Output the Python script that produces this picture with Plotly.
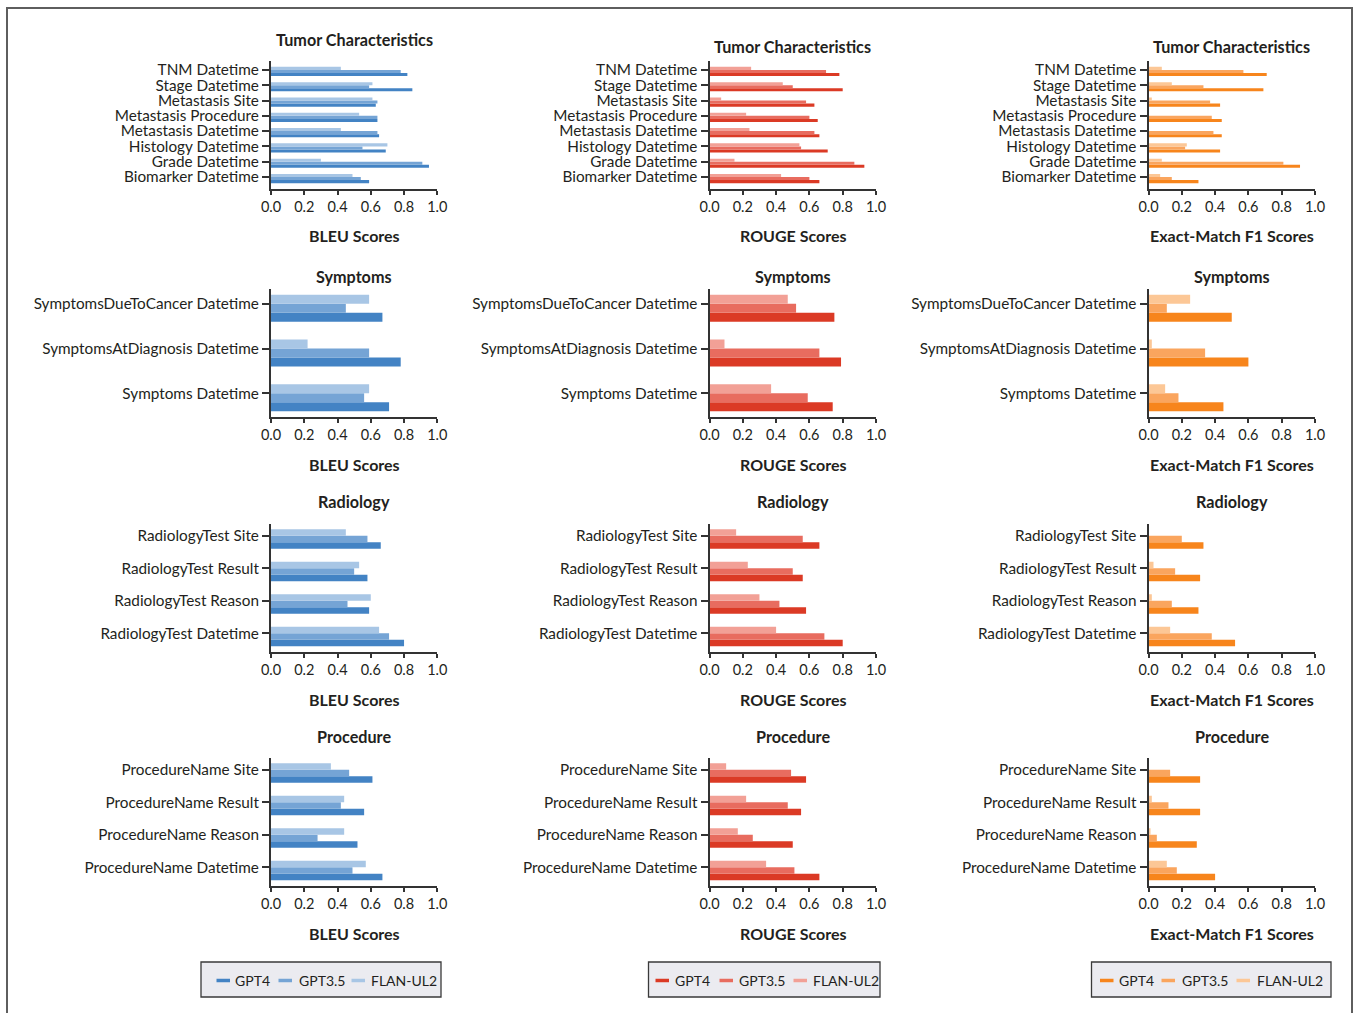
import plotly.graph_objects as go

W, H = 1354, 1013
FONT = "Lato"

models = ["GPT4", "GPT3.5", "FLAN-UL2"]
metric_titles = ["BLEU Scores", "ROUGE Scores", "Exact-Match F1 Scores"]

# Category labels, listed top to bottom as they appear in each panel
tumor_labels = ["TNM Datetime", "Stage Datetime", "Metastasis Site", "Metastasis Procedure",
                "Metastasis Datetime", "Histology Datetime", "Grade Datetime", "Biomarker Datetime"]
symptom_labels = ["SymptomsDueToCancer Datetime", "SymptomsAtDiagnosis Datetime", "Symptoms Datetime"]
radiology_labels = ["RadiologyTest Site", "RadiologyTest Result", "RadiologyTest Reason",
                    "RadiologyTest Datetime"]
procedure_labels = ["ProcedureName Site", "ProcedureName Result", "ProcedureName Reason",
                    "ProcedureName Datetime"]

# Scores per model, same order as the labels above
tumor_bleu = {
    "GPT4":     [0.82, 0.85, 0.63, 0.64, 0.65, 0.69, 0.95, 0.59],
    "GPT3.5":   [0.78, 0.59, 0.64, 0.64, 0.64, 0.55, 0.91, 0.54],
    "FLAN-UL2": [0.42, 0.61, 0.61, 0.53, 0.42, 0.70, 0.30, 0.49],
}
tumor_rouge = {
    "GPT4":     [0.78, 0.80, 0.63, 0.65, 0.66, 0.71, 0.93, 0.66],
    "GPT3.5":   [0.70, 0.50, 0.58, 0.60, 0.63, 0.55, 0.87, 0.60],
    "FLAN-UL2": [0.25, 0.44, 0.07, 0.22, 0.24, 0.54, 0.15, 0.43],
}
tumor_f1 = {
    "GPT4":     [0.71, 0.69, 0.43, 0.44, 0.44, 0.43, 0.91, 0.30],
    "GPT3.5":   [0.57, 0.33, 0.37, 0.38, 0.39, 0.22, 0.81, 0.14],
    "FLAN-UL2": [0.08, 0.14, 0.02, 0.00, 0.00, 0.23, 0.08, 0.07],
}

symptom_bleu = {
    "GPT4":     [0.67, 0.78, 0.71],
    "GPT3.5":   [0.45, 0.59, 0.56],
    "FLAN-UL2": [0.59, 0.22, 0.59],
}
symptom_rouge = {
    "GPT4":     [0.75, 0.79, 0.74],
    "GPT3.5":   [0.52, 0.66, 0.59],
    "FLAN-UL2": [0.47, 0.09, 0.37],
}
symptom_f1 = {
    "GPT4":     [0.50, 0.60, 0.45],
    "GPT3.5":   [0.11, 0.34, 0.18],
    "FLAN-UL2": [0.25, 0.02, 0.10],
}

radiology_bleu = {
    "GPT4":     [0.66, 0.58, 0.59, 0.80],
    "GPT3.5":   [0.58, 0.50, 0.46, 0.71],
    "FLAN-UL2": [0.45, 0.53, 0.60, 0.65],
}
radiology_rouge = {
    "GPT4":     [0.66, 0.56, 0.58, 0.80],
    "GPT3.5":   [0.56, 0.50, 0.42, 0.69],
    "FLAN-UL2": [0.16, 0.23, 0.30, 0.40],
}
radiology_f1 = {
    "GPT4":     [0.33, 0.31, 0.30, 0.52],
    "GPT3.5":   [0.20, 0.16, 0.14, 0.38],
    "FLAN-UL2": [0.00, 0.03, 0.02, 0.13],
}

procedure_bleu = {
    "GPT4":     [0.61, 0.56, 0.52, 0.67],
    "GPT3.5":   [0.47, 0.42, 0.28, 0.49],
    "FLAN-UL2": [0.36, 0.44, 0.44, 0.57],
}
procedure_rouge = {
    "GPT4":     [0.58, 0.55, 0.50, 0.66],
    "GPT3.5":   [0.49, 0.47, 0.26, 0.51],
    "FLAN-UL2": [0.10, 0.22, 0.17, 0.34],
}
procedure_f1 = {
    "GPT4":     [0.31, 0.31, 0.29, 0.40],
    "GPT3.5":   [0.13, 0.12, 0.05, 0.17],
    "FLAN-UL2": [0.00, 0.02, 0.01, 0.11],
}

sections = [
    ("Tumor Characteristics", tumor_labels, [tumor_bleu, tumor_rouge, tumor_f1]),
    ("Symptoms", symptom_labels, [symptom_bleu, symptom_rouge, symptom_f1]),
    ("Radiology", radiology_labels, [radiology_bleu, radiology_rouge, radiology_f1]),
    ("Procedure", procedure_labels, [procedure_bleu, procedure_rouge, procedure_f1]),
]

# One palette per metric column
palettes = [
    {"GPT4": "#4383C4", "GPT3.5": "#75A4D5", "FLAN-UL2": "#A8C6E5"},
    {"GPT4": "#DB3A25", "GPT3.5": "#E86C5F", "FLAN-UL2": "#F2A096"},
    {"GPT4": "#F7851C", "GPT3.5": "#FAA55E", "FLAN-UL2": "#FCC796"},
]

# Bars sit edge to edge: FLAN-UL2 just above the tick, GPT3.5 and GPT4 below it
BAR_W = 0.2
offsets = {"GPT4": -2 * BAR_W, "GPT3.5": -BAR_W, "FLAN-UL2": 0.0}

# Panel geometry in pixels
col_px = [(271, 437.3), (709.5, 876), (1148.5, 1315)]
row_px = [(61, 189), (289, 417), (523.5, 652), (757.5, 886)]
title_px = [[39.5, 47, 47], [276] * 3, [502] * 3, [736] * 3]
LABEL_SIZE = 15.3

AXIS_COLOR = "#333333"
TEXT_COLOR = "#231f20"


def px_x(v):
    return v / W


def px_y(v):
    return 1 - v / H


fig = go.Figure()
annotations = []
shapes = []

n = 0
for r, (sec_title, labels, tables) in enumerate(sections):
    k = len(labels)
    lo, hi = -2 * BAR_W, (k - 1) + BAR_W
    pad = 0.05 * (hi - lo)
    for c in range(3):
        n += 1
        suffix = "" if n == 1 else str(n)
        for m in models:
            fig.add_trace(go.Bar(
                orientation="h",
                y=labels,
                x=tables[c][m],
                width=BAR_W,
                offset=offsets[m],
                name=m,
                marker=dict(color=palettes[c][m], line=dict(width=0)),
                showlegend=False,
                xaxis="x" + suffix,
                yaxis="y" + suffix,
            ))
        x0, x1 = col_px[c]
        y0, y1 = row_px[r]
        fig.layout["xaxis" + suffix] = dict(
            domain=[px_x(x0), px_x(x1)],
            anchor="y" + suffix,
            automargin=False,
            range=[0, 1],
            tickvals=[0, 0.2, 0.4, 0.6, 0.8, 1.0],
            tickformat=".1f",
            ticks="outside", ticklen=4, tickwidth=1.5, tickcolor=AXIS_COLOR,
            showline=True, linecolor=AXIS_COLOR, linewidth=2,
            showgrid=False, zeroline=False, fixedrange=True,
            tickfont=dict(family=FONT, size=14.5, color=TEXT_COLOR),
        )
        fig.layout["yaxis" + suffix] = dict(
            domain=[px_y(y1), px_y(y0)],
            anchor="x" + suffix,
            automargin=False,
            type="category",
            categoryorder="array",
            categoryarray=labels[::-1],
            tickmode="array",
            tickvals=labels,
            ticktext=labels,
            range=[lo - pad, hi + pad],
            ticks="outside", ticklen=7, tickwidth=1.5, tickcolor=AXIS_COLOR,
            showline=True, linecolor=AXIS_COLOR, linewidth=2,
            showgrid=False, zeroline=False, fixedrange=True,
            tickfont=dict(family=FONT, size=LABEL_SIZE, color=TEXT_COLOR),
        )
        # panel title
        annotations.append(dict(
            text="<b>%s</b>" % sec_title, xref="paper", yref="paper",
            x=px_x((x0 + x1) / 2), y=px_y(title_px[r][c]),
            xanchor="center", yanchor="middle", showarrow=False,
            font=dict(family=FONT, size=16.2, color=TEXT_COLOR),
        ))
        # metric label under the x axis
        annotations.append(dict(
            text="<b>%s</b>" % metric_titles[c], xref="paper", yref="paper",
            x=px_x((x0 + x1) / 2), y=px_y(y1 + 47),
            xanchor="center", yanchor="middle", showarrow=False,
            font=dict(family=FONT, size=16, color=TEXT_COLOR),
        ))

# Legend boxes, one per metric column
legend_boxes = [(201, 441), (648.5, 880), (1091.5, 1331)]
legend_items = [
    [(216.5, 233.5), (278.5, 297), (351.5, 368.5)],
    [(655.5, 673), (719.5, 737), (793.5, 811)],
    [(1100, 1117), (1161.5, 1179.5), (1236.5, 1255)],
]
LEG_TOP, LEG_BOT, LEG_MID = 962, 997, 980.5
for c in range(3):
    bx0, bx1 = legend_boxes[c]
    shapes.append(dict(
        type="rect", xref="paper", yref="paper",
        x0=px_x(bx0), x1=px_x(bx1), y0=px_y(LEG_BOT), y1=px_y(LEG_TOP),
        fillcolor="#ebebf0", line=dict(color="#3a3a3a", width=1.3), layer="below",
    ))
    for m, (lx, tx) in zip(models, legend_items[c]):
        shapes.append(dict(
            type="line", xref="paper", yref="paper",
            x0=px_x(lx), x1=px_x(lx + 13.5), y0=px_y(LEG_MID), y1=px_y(LEG_MID),
            line=dict(color=palettes[c][m], width=3.5),
        ))
        annotations.append(dict(
            text=m, xref="paper", yref="paper",
            x=px_x(tx), y=px_y(LEG_MID - 0.5),
            xanchor="left", yanchor="middle", showarrow=False,
            font=dict(family=FONT, size=14, color=TEXT_COLOR),
        ))

# Outer frame around the whole figure
shapes.append(dict(
    type="rect", xref="paper", yref="paper",
    x0=px_x(7), x1=px_x(1352), y0=-0.02, y1=px_y(8),
    line=dict(color="#5e5e5e", width=2), fillcolor="rgba(0,0,0,0)",
))

fig.update_layout(
    template="none",
    width=W, height=H,
    autosize=False,
    margin=dict(l=0, r=0, t=0, b=0, pad=0, autoexpand=False),
    paper_bgcolor="white", plot_bgcolor="white",
    barmode="overlay",
    showlegend=False,
    hovermode="closest",
    font=dict(family=FONT, size=14, color=TEXT_COLOR),
    annotations=annotations,
    shapes=shapes,
)

fig.write_html("out.html", config={"responsive": False})
